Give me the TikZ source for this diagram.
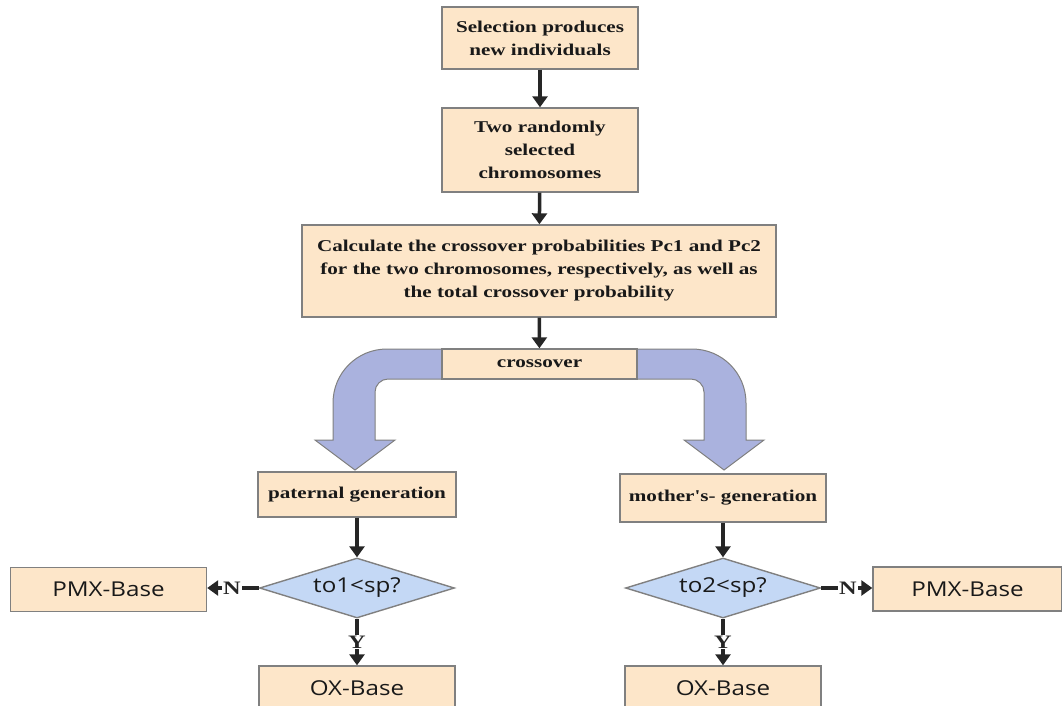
\documentclass[tikz,border=0pt]{standalone}
\usepackage{fontspec}
\usepackage{tikz}
\usetikzlibrary{arrows.meta, shapes.geometric}

\newfontfamily\boxserif[FakeStretch=1.28]{Liberation Serif}
\newfontfamily\boxsans[FakeStretch=1.18]{Open Sans}

\definecolor{boxfill}{RGB}{253,230,201}
\definecolor{boxline}{RGB}{128,128,128}
\definecolor{decfill}{RGB}{196,216,245}
\definecolor{bandfill}{RGB}{170,178,222}
\definecolor{flowcol}{RGB}{38,38,38}

\begin{document}
\begin{tikzpicture}[x=1pt, y=-1pt,
        flow/.style={-{Triangle[length=11pt, width=15pt]}, line width=3.5pt, draw=flowcol},
        box node/.style={rectangle, draw=boxline, line width=1.4pt, fill=boxfill, inner sep=2pt,
            align=center, text=black!90, font=\boxserif\bfseries\fontsize{16.5}{23}\selectfont},
        base node/.style={rectangle, draw=boxline, line width=1.4pt, fill=boxfill,
            minimum width=196pt, minimum height=44pt, text=black!90,
            font=\boxsans\fontsize{20.5}{22}\selectfont},
        dec node/.style={diamond, draw=boxline, line width=1.4pt, fill=decfill, inner sep=0pt,
            minimum width=195pt, minimum height=60pt, aspect=3.25, text=black!90,
            font=\boxsans\fontsize{20.5}{22}\selectfont},
        lab/.style={fill=white, inner sep=1pt, text=black!85,
            font=\boxserif\bfseries\fontsize{19}{19}\selectfont}]

    \useasboundingbox (0,0) rectangle (1062,706);
    \clip (0,0) rectangle (1062,706);

    % big bent arrows
    \filldraw[fill=bandfill, draw=boxline, line width=1pt]
        (442,349) -- (387,349) .. controls (357,349) and (333,373) .. (333,403)
        -- (333,440) -- (315,440) -- (355,470) -- (395,440) -- (375,440) -- (375,392)
        .. controls (375,385) and (381,379) .. (388,379) -- (442,379) -- cycle;
    \filldraw[fill=bandfill, draw=boxline, line width=1pt]
        (637,349) -- (692,349) .. controls (722,349) and (746,373) .. (746,403)
        -- (746,440) -- (764,440) -- (724,470) -- (684,440) -- (704,440) -- (704,392)
        .. controls (704,385) and (698,379) .. (691,379) -- (637,379) -- cycle;

    % nodes
    \node[box node, minimum width=196pt, minimum height=62pt] (sel) at (540,38)
        {Selection produces\\new individuals};
    \node[box node, minimum width=196pt, minimum height=84pt] (two) at (540,150)
        {Two randomly\\selected\\chromosomes};
    \node[box node, minimum width=474pt, minimum height=92pt] (calc) at (539,271)
        {Calculate the crossover probabilities Pc1 and Pc2\\for the two chromosomes, respectively, as well as\\the total crossover probability};
    \node[box node, minimum width=195pt, minimum height=30pt] (cross) at (539.5,364) {crossover};
    \node[box node, minimum width=198pt, minimum height=45pt] (pat) at (357,494.5) {paternal generation};
    \node[box node, minimum width=206pt, minimum height=48pt] (mot) at (723,498) {mother's- generation};

    \node[dec node] (d1) at (357,588) {to1<sp?};
    \node[dec node] (d2) at (723,588) {to2<sp?};

    \node[base node] (pmx1) at (108.5,589.5) {PMX-Base};
    \node[base node] (ox1) at (357,688) {OX-Base};
    \node[base node, minimum width=189pt] (pmx2) at (967.5,589) {PMX-Base};
    \node[base node] (ox2) at (723,688) {OX-Base};

    % connectors
    \draw[flow] (sel) -- (two);
    \draw[flow] (two) -- (calc);
    \draw[flow] (calc) -- (cross);
    \draw[flow] (pat) -- (d1);
    \draw[flow] (mot) -- (d2);
    \draw[flow] (d1.west) -- node[lab, pos=0.52] {N} (d1.west -| pmx1.east);
    \draw[flow] (d1) -- node[lab] {Y} (ox1);
    \draw[flow] (d2.east) -- node[lab, pos=0.52] {N} (d2.east -| pmx2.west);
    \draw[flow] (d2) -- node[lab] {Y} (ox2);
\end{tikzpicture}
\end{document}
